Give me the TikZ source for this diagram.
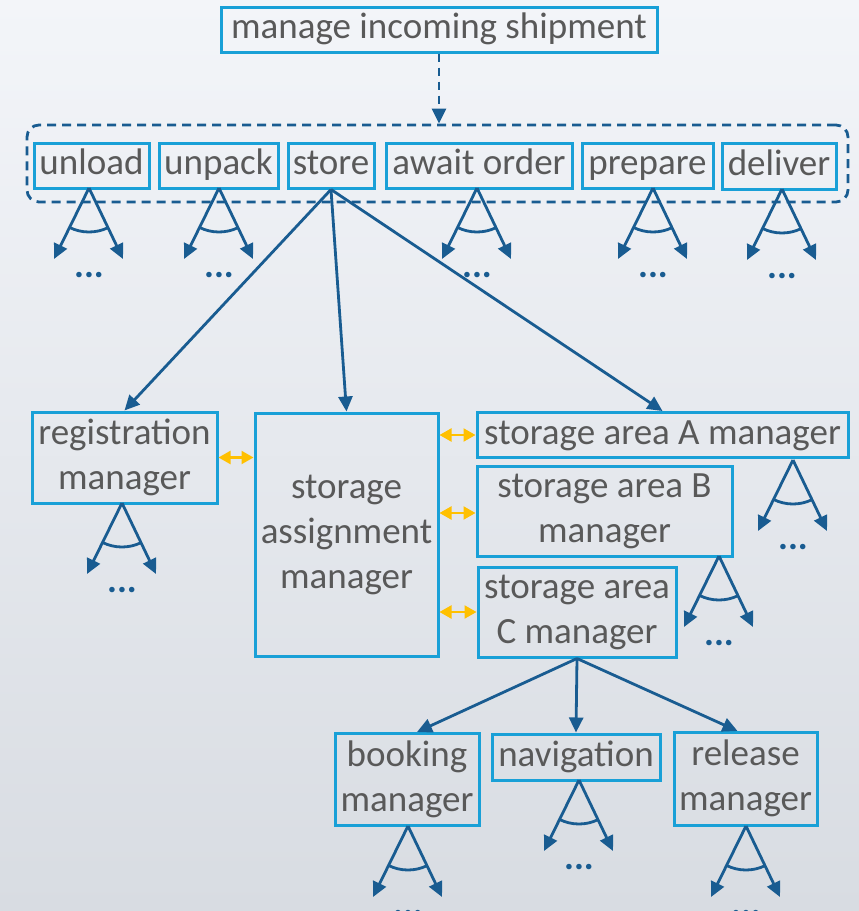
\documentclass[tikz,border=0pt]{standalone}
\usepackage{fontspec}
\setmainfont{Carlito}
\usetikzlibrary{arrows.meta}
\definecolor{bx}{RGB}{25,160,215}
\definecolor{dk}{RGB}{25,92,145}
\definecolor{tx}{RGB}{89,89,89}
\definecolor{yl}{RGB}{255,192,0}
\definecolor{bgt}{RGB}{243,245,249}
\definecolor{bgb}{RGB}{216,220,226}
\begin{document}
\begin{tikzpicture}[x=1pt,y=-1pt,
  box/.style={draw=bx, line width=3pt, text=tx, inner sep=0pt, align=center,
    font=\fontsize{37}{45}\selectfont},
  grpbox/.style={draw=dk, line width=2.8pt, dash pattern=on 9pt off 6pt, rounded corners=12pt, inner sep=0pt},
  fk/.style={draw=dk, line width=2.8pt, -{Triangle[length=15pt,width=14pt]}},
  dkline/.style={draw=dk, line width=2.8pt},
  dots/.style={text=dk, inner sep=0pt, font=\fontsize{37}{45}\selectfont\bfseries},
  yarr/.style={draw=yl, line width=2.2pt, {Triangle[length=12pt,width=13pt]}-{Triangle[length=12pt,width=13pt]}},
  dasharr/.style={draw=dk, line width=2.8pt, dash pattern=on 8pt off 6pt, -{Triangle[length=15pt,width=14pt]}},
  fork/.pic={
    \coordinate (-l) at (-35,71);
    \coordinate (-r) at (34,71);
    \draw[fk] (0,0) -- (-l);
    \draw[fk] (0,0) -- (-r);
    \draw[dkline] (64.4:44) arc[start angle=64.4, end angle=116.2, radius=44];
    \node[dots, anchor=base] (-d) at (0,89) {...};
  }
]
\useasboundingbox (0,0) rectangle (859,911);
\fill[top color=bgt, bottom color=bgb] (0,0) rectangle (859,911);

% top
\node[box, minimum width=436, minimum height=45] (top) at (439,29.5) {\strut manage incoming shipment};
\node[grpbox, minimum width=821, minimum height=77] (grp) at (437.5,163.5) {};

% row
\node[box, minimum width=115, minimum height=45] (unload) at (91.5,165.5) {\strut unload};
\node[box, minimum width=119, minimum height=45] (unpack) at (218.5,165.5) {\strut unpack};
\node[box, minimum width=86, minimum height=45] (store) at (331,165.5) {\strut store};
\node[box, minimum width=186, minimum height=45] (await) at (479,165.5) {\strut await order};
\node[box, minimum width=131, minimum height=45] (prepare) at (647.5,165.5) {\strut prepare};
\node[box, minimum width=114, minimum height=46] (deliver) at (779,166) {\strut deliver};

% managers
\node[box, minimum width=185, minimum height=91] (reg) at (124.5,457.5) {\strut registration\\\strut manager};
\node[box, minimum width=183, minimum height=243] (sam) at (346.5,534.5) {\strut storage\\\strut assignment\\\strut manager};
\node[box, minimum width=371, minimum height=44] (areaA) at (662.5,435) {\strut storage area A manager};
\node[box, minimum width=255, minimum height=90] (areaB) at (604.5,511) {\strut storage area B\\\strut manager};
\node[box, minimum width=198, minimum height=90] (areaC) at (577,612) {\strut storage area\\\strut C manager};

% bottom
\node[box, minimum width=144, minimum height=92] (booking) at (407,779.5) {\strut booking\\\strut manager};
\node[box, minimum width=168, minimum height=46] (nav) at (576,757) {\strut navigation};
\node[box, minimum width=143, minimum height=93] (release) at (745.5,779) {\strut release\\\strut manager};

% connectors
\draw[dasharr] (top.south) -- (top.south |- grp.north);
\draw[fk] (store.south) -- (reg.north);
\draw[fk] (store.south) -- (sam.north);
\draw[fk] (store.south) -- (areaA.north);
\draw[fk] (areaC.south) -- ([xshift=10pt]booking.north);
\draw[fk] (areaC.south) -- (nav.north);
\draw[fk] (areaC.south) -- ([xshift=-8pt]release.north);

% peer links
\draw[yarr] (reg.east) -- (reg.east -| sam.west);
\draw[yarr] (sam.east |- areaA.west) -- (areaA.west);
\draw[yarr] (sam.east |- 0,513) -- (areaB.west |- 0,513);
\draw[yarr] (sam.east |- areaC.west) -- (areaC.west);

% decomposition forks
\pic (f1) at (89,188) {fork};
\pic (f2) at (219,188) {fork};
\pic (f3) at (477,188) {fork};
\pic (f4) at (653,188) {fork};
\pic (f5) at (782,189) {fork};
\pic (f6) at (122,503) {fork};
\pic (f7) at (793,460) {fork};
\pic (f8) at (719,556) {fork};
\pic (f9) at (579,780) {fork};
\pic (f10) at (408,826) {fork};
\pic (f11) at (746,826) {fork};
\end{tikzpicture}
\end{document}
